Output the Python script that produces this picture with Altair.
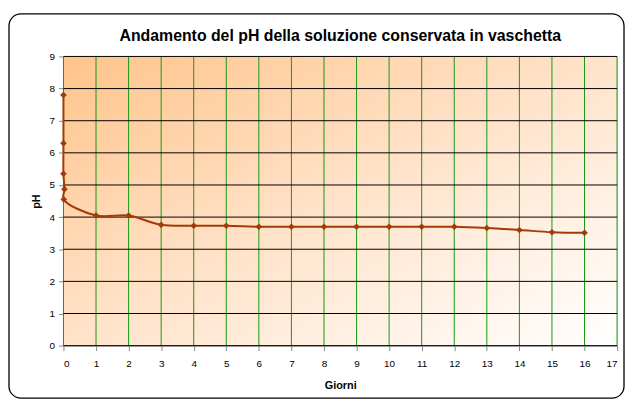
import altair as alt
import pandas as pd

# Data
giorni = [0, 0, 0, 0.03, 0.01, 1, 2, 3, 4, 5, 6, 7, 8, 9, 10, 11, 12, 13, 14, 15, 16]
ph = [7.8, 6.3, 5.35, 4.87, 4.55, 4.05, 4.05, 3.76, 3.73, 3.73, 3.70, 3.70, 3.70,
      3.70, 3.70, 3.70, 3.70, 3.66, 3.60, 3.53, 3.51]
x_ticks = list(range(0, 18))
y_ticks = list(range(0, 10))

df = pd.DataFrame({"Giorni": giorni, "pH": ph, "ordine": list(range(len(ph)))})

W, H = 559, 292
FONT = "Liberation Sans"
LINE = "#A33B06"

one = pd.DataFrame({"a": [0]})

gradient = alt.Gradient(
    gradient="linear", x1=0, y1=0, x2=1, y2=1,
    stops=[alt.GradientStop(color="#FFC48B", offset=0),
           alt.GradientStop(color="#FFE3CA", offset=0.5),
           alt.GradientStop(color="#FFFFFF", offset=1)],
)

xs = alt.Scale(domain=[0, 17], nice=False, zero=True)
ys = alt.Scale(domain=[0, 9], nice=False)
X_AX = alt.Axis(values=x_ticks, format="d", grid=False, labelPadding=8, titlePadding=11)
Y_AX = alt.Axis(values=y_ticks, format="d", grid=False, labelPadding=4, titlePadding=8)

cornice = alt.Chart(one).mark_rect(
    fill=None, stroke="#000000", strokeWidth=1.3, cornerRadius=12
).encode(
    x=alt.value(-55), x2=alt.value(W + 7), y=alt.value(-43), y2=alt.value(H + 53)
)

sfondo = alt.Chart(one).mark_rect(fill=gradient, stroke=None).encode(
    x=alt.value(0), x2=alt.value(W), y=alt.value(0), y2=alt.value(H)
)

griglia_v = alt.Chart(pd.DataFrame({"g": x_ticks})).mark_rule(
    color="#129A12", strokeWidth=1
).encode(x=alt.X("g:Q", scale=xs, axis=X_AX, title="Giorni"))

griglia_h = alt.Chart(pd.DataFrame({"g": y_ticks})).mark_rule(
    color="#000000", strokeWidth=1
).encode(y=alt.Y("g:Q", scale=ys, axis=Y_AX, title="pH"))

base = alt.Chart(df).encode(
    x=alt.X("Giorni:Q", scale=xs, title="Giorni", axis=X_AX),
    y=alt.Y("pH:Q", scale=ys, title="pH", axis=Y_AX),
    order=alt.Order("ordine:Q"),
)

linea = base.mark_line(color=LINE, strokeWidth=2, interpolate="catmull-rom")
punti = base.mark_point(shape="diamond", filled=True, color=LINE, size=45, opacity=1)

chart = alt.layer(cornice, sfondo, griglia_v, griglia_h, linea, punti).properties(
    width=W, height=H,
    title=alt.Title("Andamento del pH della soluzione conservata in vaschetta",
                    font=FONT, fontSize=16, fontWeight="bold", color="#000000",
                    anchor="middle", frame="group", offset=-31),
    autosize=alt.AutoSizeParams(type="none"),
    padding={"left": 56, "top": 47, "right": 8, "bottom": 55},
).configure_view(stroke=None).configure_axis(
    labelFont=FONT, labelFontSize=10.5, labelColor="#000000",
    titleFont=FONT, titleFontSize=12, titleFontWeight="bold", titleColor="#000000",
    domainColor="#000000", tickColor="#000000", tickSize=5, domainWidth=1,
).configure(background="#FFFFFF")

chart.save("out.html", embed_options={"renderer": "svg", "actions": False})
